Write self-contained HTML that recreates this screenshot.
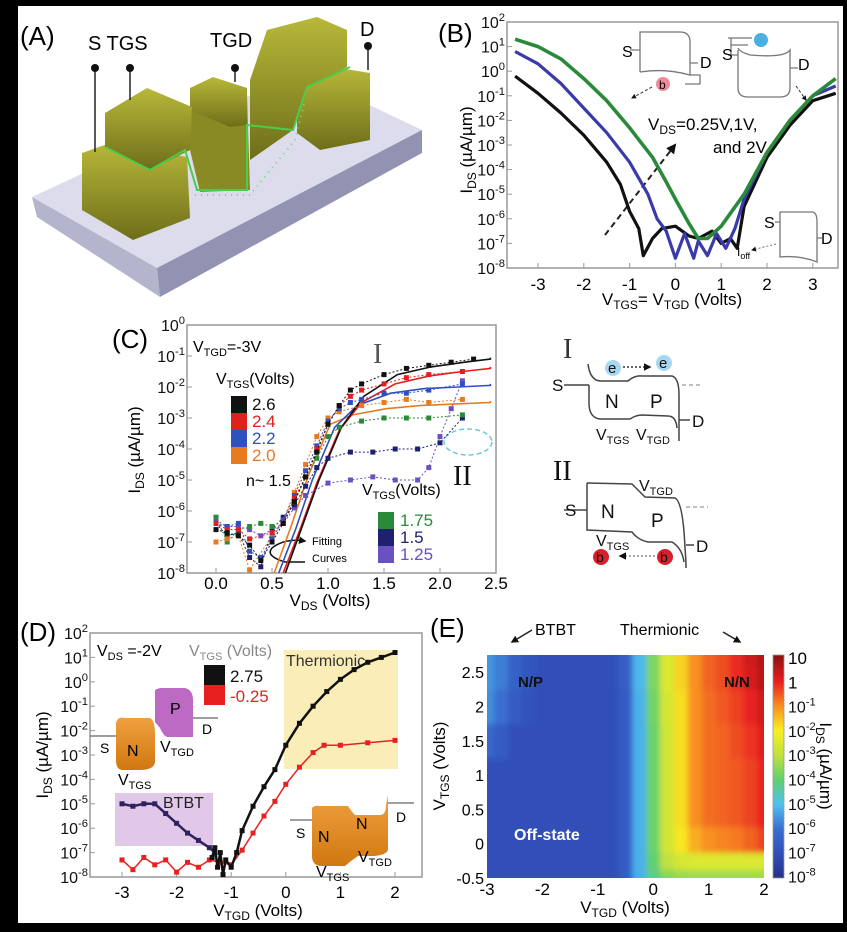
<!DOCTYPE html>
<html><head><meta charset="utf-8">
<style>
html,body{margin:0;padding:0;background:#000;}
svg{display:block;font-family:"Liberation Sans",Arial,sans-serif;}
</style></head>
<body>
<svg id="fig" width="847" height="932" viewBox="0 0 847 932" xmlns="http://www.w3.org/2000/svg">
<defs>
  <filter id="blur3" x="-5%" y="-5%" width="110%" height="110%"><feGaussianBlur stdDeviation="3"/></filter>
  <clipPath id="eclip"><rect x="487" y="655" width="277" height="223"/></clipPath>
  <linearGradient id="cbar" x1="0" y1="1" x2="0" y2="0">
    <stop offset="0" stop-color="#26308a"/><stop offset="0.11" stop-color="#3050b8"/>
    <stop offset="0.22" stop-color="#3a6ed0"/><stop offset="0.33" stop-color="#50c0f0"/>
    <stop offset="0.44" stop-color="#60d070"/><stop offset="0.55" stop-color="#c0e040"/>
    <stop offset="0.66" stop-color="#f8f020"/><stop offset="0.77" stop-color="#f89020"/>
    <stop offset="0.88" stop-color="#e82020"/><stop offset="1" stop-color="#8a1010"/>
  </linearGradient>
  <linearGradient id="olive" x1="0" y1="0" x2="0" y2="1">
    <stop offset="0" stop-color="#b8b83a"/><stop offset="1" stop-color="#6e6e1a"/>
  </linearGradient>
  <linearGradient id="orangeg" x1="0" y1="0" x2="0" y2="1">
    <stop offset="0" stop-color="#f0a040"/><stop offset="1" stop-color="#d07810"/>
  </linearGradient>
  <marker id="arr" viewBox="0 0 10 10" refX="8" refY="5" markerWidth="5" markerHeight="5" orient="auto"><path d="M0,0L10,5L0,10z" fill="#111"/></marker>
</defs>
<rect x="18" y="6" width="825" height="917" fill="#fff"/>

<!-- Panel A: device schematic -->
<g>
  <polygon points="32,197 300,72 422,130 157,268" fill="#dcdcec"/>
  <polygon points="32,197 157,268 160,297 37,217" fill="#b4b4cc"/>
  <polygon points="157,268 422,130 422,153 160,297" fill="#9292b2"/>
  <polygon points="297,95 333,67 370,73 370,140 320,150 297,133" fill="url(#olive)"/>
  <polygon points="250,80 267,30 317,17 347,30 347,67 307,87 293,130 250,160" fill="url(#olive)"/>
  <polygon points="190,110 247,95 250,190 200,192 190,150" fill="#8a8a24"/>
  <polygon points="190,88 213,77 247,88 247,125 230,127 190,110" fill="url(#olive)"/>
  <polygon points="82,153 110,143 187,157 190,218 133,240 82,210" fill="url(#olive)"/>
  <polygon points="105,113 147,88 192,107 190,150 150,170 105,147" fill="url(#olive)"/>
  <polyline points="105,147 150,170 185,150 197,190 247,190 247,125 293,130 307,87 350,67" fill="none" stroke="#4ccc4c" stroke-width="2"/>
  <polyline points="195,195 250,195 295,140 305,100" fill="none" stroke="#6ee06e" stroke-width="2" stroke-dasharray="1,5"/>
  <g stroke="#222" stroke-width="1.5">
    <line x1="95" y1="68" x2="95" y2="152"/><line x1="130" y1="68" x2="130" y2="100"/>
    <line x1="235" y1="68" x2="235" y2="82"/><line x1="368" y1="46" x2="368" y2="70"/>
  </g>
  <g fill="#111"><circle cx="95" cy="68" r="4"/><circle cx="130" cy="68" r="4"/><circle cx="235" cy="68" r="4"/><circle cx="368" cy="46" r="4"/></g>
  <text x="20" y="45" font-size="26">(A)</text>
  <text x="88" y="50" font-size="20">S TGS</text>
  <text x="210" y="47" font-size="20">TGD</text>
  <text x="360" y="36" font-size="20">D</text>
</g>

<!-- Panel B static -->
<g>
  <text x="438" y="42" font-size="26">(B)</text>
  <rect x="507" y="22" width="331" height="246" fill="none" stroke="#999" stroke-width="1.5"/>
  <text transform="translate(472,150) rotate(-90)" text-anchor="middle" font-size="17">I<tspan font-size="12" dy="4">DS</tspan><tspan dy="-4"> (µA/µm)</tspan></text>
  <text x="672" y="305" text-anchor="middle" font-size="17">V<tspan font-size="12" dy="4">TGS</tspan><tspan dy="-4">= V</tspan><tspan font-size="12" dy="4">TGD</tspan><tspan dy="-4"> (Volts)</tspan></text>
  <text x="648" y="130" font-size="17">V<tspan font-size="12" dy="4">DS</tspan><tspan dy="-4">=0.25V,1V,</tspan></text>
  <text x="713" y="153" font-size="17">and 2V</text>
  <line x1="605" y1="235" x2="675" y2="145" stroke="#222" stroke-width="2" stroke-dasharray="6,4" marker-end="url(#arr)"/>
  <g fill="none" stroke="#777" stroke-width="1.3">
    <path d="M640,72 L640,32 L680,32 Q690,32 690,42 L690,75 Q665,68 640,72"/>
    <path d="M630,50 L640,50 M690,63 L698,63 M690,75 L700,75 L700,84 L685,84"/>
  </g>
  <circle cx="663" cy="84" r="7" fill="#f08a9a"/>
  <text x="659" y="89" font-size="12">b</text>
  <text x="622" y="57" font-size="16">S</text><text x="700" y="68" font-size="16">D</text>
  <line x1="652" y1="87" x2="632" y2="98" stroke="#333" stroke-dasharray="3,2" marker-end="url(#arr)"/>
  <g fill="none" stroke="#777" stroke-width="1.3">
    <path d="M738,50 L738,88 Q738,97 748,97 L780,97 Q790,97 790,88 L790,50 Q785,58 750,55 Q740,52 738,48"/>
    <path d="M728,55 L738,55 M790,68 L798,68 M728,38 L752,38 M731,45 L748,45 M731,38 L731,55"/>
  </g>
  <circle cx="761" cy="40" r="7" fill="#4ab0e0"/>
  <text x="722" y="60" font-size="16">S</text><text x="798" y="70" font-size="16">D</text>
  <line x1="796" y1="86" x2="806" y2="100" stroke="#333" stroke-dasharray="3,2" marker-end="url(#arr)"/>
  <g fill="none" stroke="#777" stroke-width="1.3">
    <path d="M780,212 L812,212 Q817,212 817,222 L817,262 Q800,255 780,257 Z"/>
    <path d="M775,222 L780,222 M817,238 L822,238"/>
  </g>
  <text x="764" y="228" font-size="16">S</text><text x="821" y="244" font-size="16">D</text>
  <text x="737" y="256" font-size="12">I<tspan font-size="9" dy="3">off</tspan></text>
  <line x1="776" y1="244" x2="752" y2="250" stroke="#777" stroke-dasharray="2,2" marker-end="url(#arr)"/>
</g>

<!-- Panel C static -->
<g>
  <text x="112" y="348" font-size="26">(C)</text>
  <rect x="187" y="325" width="309" height="248" fill="none" stroke="#999" stroke-width="1.5"/>
  <text transform="translate(140,450) rotate(-90)" text-anchor="middle" font-size="17">I<tspan font-size="12" dy="4">DS</tspan><tspan dy="-4"> (µA/µm)</tspan></text>
  <text x="330" y="606" text-anchor="middle" font-size="17">V<tspan font-size="12" dy="4">DS</tspan><tspan dy="-4"> (Volts)</tspan></text>
  <text x="193" y="352" font-size="16">V<tspan font-size="11" dy="4">TGD</tspan><tspan dy="-4">=-3V</tspan></text>
  <text x="216" y="384" font-size="16">V<tspan font-size="11" dy="4">TGS</tspan><tspan dy="-4">(Volts)</tspan></text>
  <text x="373" y="363" font-family="Liberation Serif" font-size="28" fill="#555">I</text>
  <text x="453" y="485" font-family="Liberation Serif" font-size="28" fill="#111">II</text>
  <text x="362" y="495" font-size="16">V<tspan font-size="11" dy="4">TGS</tspan><tspan dy="-4">(Volts)</tspan></text>
  <text x="312" y="545" font-size="11">Fitting</text>
  <text x="312" y="562" font-size="11">Curves</text>
  <path d="M305,562 L285,562 Q265,556 272,548 Q285,538 305,541" fill="none" stroke="#111" stroke-width="1.5" marker-end="url(#arr)"/>
  <ellipse cx="468" cy="442" rx="24" ry="13" fill="none" stroke="#70c8d8" stroke-width="1.5" stroke-dasharray="5,3"/>
</g>
<g id="legendC"></g>

<!-- Band diagrams I and II -->
<g fill="none" stroke="#444" stroke-width="1.5">
  <text x="563" y="358" font-family="Liberation Serif" font-size="28" fill="#333" stroke="none">I</text>
  <path d="M588,364 Q590,380 600,381 L628,381 Q635,375 642,376 L672,376 Q679,378 679,395 L679,441"/>
  <path d="M589,385 L589,405 Q590,418 600,419 L630,419 Q636,415 642,415 L668,416 Q676,416 677,428"/>
  <path d="M564,385 L589,385 M679,420 L690,420"/>
  <path d="M682,385 L700,385" stroke="#aaa" stroke-dasharray="4,3"/>
  <circle cx="613" cy="368" r="8" fill="#a8d8f0" stroke="none"/><circle cx="664" cy="363" r="8" fill="#a8d8f0" stroke="none"/>
  <path d="M623,367 L650,367" stroke="#333" stroke-dasharray="2,2" marker-end="url(#arr)"/>
  <g stroke="none" fill="#111">
    <text x="608" y="373" font-size="15">e</text><text x="659" y="368" font-size="15">e</text>
    <text x="552" y="391" font-size="17">S</text><text x="692" y="427" font-size="17">D</text>
    <text x="605" y="408" font-size="19">N</text><text x="650" y="408" font-size="19">P</text>
    <text x="596" y="440" font-size="16">V<tspan font-size="11" dy="4">TGS</tspan></text>
    <text x="636" y="440" font-size="16">V<tspan font-size="11" dy="4">TGD</tspan></text>
  </g>
</g>
<g fill="none" stroke="#444" stroke-width="1.5">
  <text x="553" y="480" font-family="Liberation Serif" font-size="28" fill="#111" stroke="none">II</text>
  <path d="M587,483 L632,484 Q638,490 645,497 L675,498 Q683,502 685,548 Q686,560 686,568"/>
  <path d="M587,483 L587,530 L632,532 Q638,540 648,542 L672,542 Q682,548 684,562"/>
  <path d="M564,510 L587,510 M686,545 L694,545"/>
  <path d="M686,507 L708,507" stroke="#aaa" stroke-dasharray="4,3"/>
  <circle cx="601" cy="557" r="8" fill="#d8202a" stroke="none"/><circle cx="665" cy="557" r="8" fill="#d8202a" stroke="none"/>
  <path d="M655,556 L620,556" stroke="#888" stroke-dasharray="2,2" marker-end="url(#arr)"/>
  <g stroke="none" fill="#111">
    <text x="596" y="562" font-size="14">b</text><text x="660" y="562" font-size="14">b</text>
    <text x="565" y="516" font-size="17">S</text><text x="696" y="552" font-size="17">D</text>
    <text x="601" y="518" font-size="19">N</text><text x="651" y="527" font-size="19">P</text>
    <text x="596" y="546" font-size="16">V<tspan font-size="11" dy="4">TGS</tspan></text>
    <text x="639" y="491" font-size="16">V<tspan font-size="11" dy="4">TGD</tspan></text>
  </g>
</g>

<!-- Panel D static -->
<g>
  <text x="20" y="641" font-size="26">(D)</text>
  <rect x="284" y="650" width="114" height="119" fill="#fbedb8"/>
  <rect x="115" y="793" width="98" height="53" fill="#e2c8e8"/>
  <rect x="90" y="633" width="332" height="244" fill="none" stroke="#999" stroke-width="1.5"/>
  <text transform="translate(48,755) rotate(-90)" text-anchor="middle" font-size="17">I<tspan font-size="12" dy="4">DS</tspan><tspan dy="-4"> (µA/µm)</tspan></text>
  <text x="258" y="916" text-anchor="middle" font-size="17">V<tspan font-size="12" dy="4">TGD</tspan><tspan dy="-4"> (Volts)</tspan></text>
  <text x="97" y="656" font-size="16">V<tspan font-size="11" dy="4">DS</tspan><tspan dy="-4"> =-2V</tspan></text>
  <text x="189" y="656" font-size="16" fill="#888">V<tspan font-size="11" dy="4">TGS</tspan><tspan dy="-4"> (Volts)</tspan></text>
  <text x="286" y="666" font-size="16" fill="#333">Thermionic</text>
  <text x="163" y="808" font-size="16" fill="#222">BTBT</text>
  <g>
    <path d="M155,690 Q158,688 162,688 L185,688 Q193,690 193,700 L193,737 L168,737 Q164,737 160,728 L155,722 Z" fill="#b050b8" opacity="0.85"/>
    <path d="M116,723 Q118,716 124,718 L150,718 Q155,720 155,735 L155,762 Q154,770 140,770 L123,770 Q116,770 116,760 Z" fill="url(#orangeg)"/>
    <path d="M90,736 L116,736 M193,718 L218,718" stroke="#666" stroke-width="1.3"/>
    <text x="170" y="714" font-size="16">P</text><text x="127" y="756" font-size="16">N</text>
    <text x="100" y="753" font-size="14">S</text><text x="202" y="734" font-size="14">D</text>
    <text x="160" y="752" font-size="16">V<tspan font-size="11" dy="4">TGD</tspan></text>
    <text x="118" y="785" font-size="16">V<tspan font-size="11" dy="4">TGS</tspan></text>
  </g>
  <g>
    <path d="M312,808 Q314,805 320,806 L348,806 Q352,812 355,815 L380,815 Q386,815 386,805 L388,795 L388,850 Q386,855 375,856 L358,856 Q352,860 345,866 L322,866 Q312,866 312,856 Z" fill="url(#orangeg)"/>
    <path d="M290,820 L312,820 M388,803 L414,803" stroke="#666" stroke-width="1.3"/>
    <text x="318" y="842" font-size="16">N</text><text x="356" y="829" font-size="16">N</text>
    <text x="296" y="838" font-size="14">S</text><text x="396" y="822" font-size="14">D</text>
    <text x="358" y="862" font-size="16">V<tspan font-size="11" dy="4">TGD</tspan></text>
    <text x="316" y="877" font-size="16">V<tspan font-size="11" dy="4">TGS</tspan></text>
  </g>
</g>
<g id="legendD"></g>

<!-- Panel E static -->
<g>
  <text x="430" y="637" font-size="26">(E)</text>
  <text x="535" y="635" font-size="16">BTBT</text>
  <line x1="532" y1="630" x2="512" y2="642" stroke="#222" stroke-width="1.5" marker-end="url(#arr)"/>
  <text x="620" y="635" font-size="16">Thermionic</text>
  <line x1="723" y1="632" x2="740" y2="642" stroke="#222" stroke-width="1.5" marker-end="url(#arr)"/>
  <text transform="translate(445,766) rotate(-90)" text-anchor="middle" font-size="17">V<tspan font-size="12" dy="4">TGS</tspan><tspan dy="-4"> (Volts)</tspan></text>
  <text x="625" y="913" text-anchor="middle" font-size="17">V<tspan font-size="12" dy="4">TGD</tspan><tspan dy="-4"> (Volts)</tspan></text>
  <rect x="773" y="655" width="11" height="223" fill="url(#cbar)" stroke="#999" stroke-width="0.8"/>
  <text transform="translate(820,766) rotate(90)" text-anchor="middle" font-size="17">I<tspan font-size="12" dy="4">DS</tspan><tspan dy="-4"> (µA/µm)</tspan></text>
</g>
<g id="heat" clip-path="url(#eclip)"><g id="heatcells" filter="url(#blur3)"></g></g>
<g>
  <text x="518" y="687" font-size="15" font-weight="bold" fill="#111">N/P</text>
  <text x="724" y="687" font-size="15" font-weight="bold" fill="#111">N/N</text>
  <text x="514" y="840" font-size="16" font-weight="bold" fill="#fff">Off-state</text>
</g>
<g id="dyn"></g>
<g>
  <text x="246" y="486" font-size="16">n~ 1.5</text>
</g>
</svg>

<script>
// ---------- Panel B data ----------
const bXGreen=[-3.5,-3,-2.5,-2,-1.5,-1,-0.5,-0.2,0,0.3,0.5,0.7,1.0,1.5,2,2.5,3,3.5];
const bGreen=[1.3,1.0,0.5,-0.3,-1.2,-2.3,-3.5,-4.5,-5.2,-6.2,-6.8,-6.8,-6.3,-5.0,-3.3,-2.0,-1.0,-0.3];
const bXBlue=[-3.5,-3,-2.5,-2,-1.5,-1,-0.6,-0.4,-0.2,0,0.2,0.4,0.5,0.7,0.9,1.1,1.3,1.5,2,2.5,3,3.5];
const bBlue=[0.8,0.3,-0.5,-1.5,-2.5,-3.7,-5.0,-6.0,-6.5,-7.6,-6.6,-7.6,-6.9,-7.5,-6.6,-7.2,-6.4,-5.2,-3.3,-2.0,-1.0,-0.6];
const bXBlack=[-3.5,-3,-2.5,-2,-1.5,-1.2,-1,-0.8,-0.7,-0.5,-0.3,0,0.3,0.5,0.8,1.0,1.2,1.35,1.5,2,2.5,3,3.5];
const bBlack=[-0.2,-0.9,-1.7,-2.6,-3.7,-4.6,-5.7,-6.4,-7.5,-6.8,-6.4,-6.3,-6.7,-6.8,-6.5,-7.0,-6.8,-7.2,-5.5,-3.5,-2.2,-1.2,-0.9];
const bXTicks=[-3,-2,-1,0,1,2,3];
const bYExp=[2,1,0,-1,-2,-3,-4,-5,-6,-7,-8];

// ---------- Panel C data ----------
const cX26=[0,0.1,0.2,0.3,0.4,0.5,0.6,0.7,0.8,0.9,1.0,1.1,1.2,1.3,1.5,1.7,1.9,2.1,2.3];
const c26=[-6.6,-6.7,-6.8,-7.1,-7.6,-7.0,-6.4,-5.7,-4.9,-4.1,-3.2,-2.6,-2.1,-1.9,-1.6,-1.4,-1.3,-1.2,-1.1];
const cX24=[0,0.1,0.2,0.3,0.5,0.6,0.7,0.8,0.9,1.0,1.1,1.2,1.3,1.5,1.7,1.9,2.2];
const c24=[-6.4,-6.6,-6.6,-6.9,-6.7,-6.4,-5.6,-4.9,-4.0,-3.2,-2.6,-2.3,-2.1,-1.9,-1.7,-1.6,-1.5];
const cX22=[0,0.1,0.2,0.3,0.4,0.5,0.6,0.7,0.8,0.9,1.0,1.1,1.2,1.3,1.5,1.7,1.9,2.2];
const c22=[-6.4,-6.5,-6.4,-7.3,-7.5,-6.9,-6.3,-5.5,-4.7,-3.9,-3.1,-2.7,-2.5,-2.4,-2.2,-2.2,-2.1,-1.9];
const cX20=[0,0.1,0.2,0.3,0.5,0.6,0.7,0.8,0.9,1.0,1.1,1.3,1.5,1.7,1.9,2.2];
const c20=[-7.0,-6.9,-6.8,-7.9,-6.8,-6.3,-5.4,-4.5,-3.6,-3.0,-2.8,-2.6,-2.5,-2.4,-2.5,-2.4];
const cX175=[0,0.1,0.2,0.3,0.4,0.5,0.6,0.7,0.8,0.9,1.0,1.1,1.3,1.5,1.7,1.9,2.2];
const c175=[-6.2,-7.0,-6.6,-6.5,-6.4,-6.5,-6.3,-5.7,-4.9,-4.3,-3.6,-3.3,-3.1,-3.0,-3.0,-3.0,-2.9];
const cX15=[0,0.1,0.2,0.3,0.4,0.5,0.6,0.7,0.8,0.9,1.0,1.2,1.4,1.6,1.8,2.0,2.2];
const c15=[-6.4,-6.8,-6.7,-7.5,-7.8,-6.6,-6.2,-5.8,-5.2,-4.6,-4.3,-4.1,-4.1,-4.0,-4.0,-3.8,-3.0];
const cX125=[0,0.1,0.2,0.3,0.4,0.5,0.6,0.7,0.8,1.0,1.2,1.4,1.6,1.8,1.9,2.0,2.1,2.2];
const c125=[-6.3,-6.5,-6.5,-6.6,-6.8,-6.6,-6.4,-5.9,-5.5,-5.1,-5.0,-4.9,-5.0,-5.0,-4.6,-3.6,-2.7,-1.8];
const cFitX=[0.0,0.15,0.3,0.5,0.7,1.0,1.3,1.6,2.0,2.35];
const cFitBlack=[-8.0,-6.5,-5.0,-3.3,-2.3,-1.6,-1.35,-1.2,-1.1,-1.05];
const cFitRed=[-8.0,-6.6,-5.1,-3.4,-2.5,-1.9,-1.65,-1.5,-1.4,-1.35];
const cFitBlue=[-8.0,-6.6,-5.0,-3.3,-2.6,-2.2,-2.05,-2.0,-1.95,-1.9];
const cFitOrange=[-8.0,-6.5,-4.9,-3.2,-2.9,-2.7,-2.6,-2.55,-2.5,-2.45];
const cFitStart=[0.62,0.6,0.56,0.52];
const cXTicks=[0.0,0.5,1.0,1.5,2.0,2.5];
const cYExp=[0,-1,-2,-3,-4,-5,-6,-7,-8];
const cLeg1Labels=["2.6","2.4","2.2","2.0"];
const cLeg2Labels=["1.75","1.5","1.25"];

// ---------- Panel D data ----------
const dXBlack=[-1.35,-1.3,-1.25,-1.2,-1.15,-1.1,-1.0,-0.9,-0.8,-0.6,-0.4,-0.2,0,0.25,0.5,0.75,1.0,1.25,1.5,1.75,2.0];
const dBlack=[-7.2,-6.8,-7.6,-7.0,-7.9,-7.3,-7.6,-7.0,-6.1,-5.1,-4.3,-3.6,-2.6,-1.7,-1.0,-0.4,0.1,0.5,0.8,1.0,1.2];
const dXRed=[-3,-2.8,-2.6,-2.4,-2.2,-2.0,-1.8,-1.6,-1.4,-1.2,-1.0,-0.8,-0.6,-0.4,-0.2,0,0.25,0.5,0.7,1.0,1.5,2.0];
const dRed=[-7.3,-7.7,-7.2,-7.5,-7.3,-7.8,-7.4,-7.6,-7.3,-7.4,-7.5,-6.9,-6.2,-5.5,-4.9,-4.2,-3.5,-2.9,-2.6,-2.6,-2.5,-2.4];
const dXBtbt=[-3,-2.8,-2.6,-2.4,-2.2,-2.0,-1.8,-1.6,-1.4,-1.3];
const dBtbt=[-5.0,-5.1,-5.0,-5.0,-5.4,-5.8,-6.2,-6.5,-6.8,-7.0];
const dXTicks=[-3,-2,-1,0,1,2];
const dYExp=[2,1,0,-1,-2,-3,-4,-5,-6,-7,-8];
const dLegLabels=["2.75","-0.25"];

// ---------- Panel E data ----------
const eCols=[-3,-2.75,-2.5,-2.25,-2,-1.75,-1.5,-1.25,-1,-0.75,-0.5,-0.25,0,0.25,0.5,0.75,1,1.25,1.5,1.75,2];
const eRows=[-0.5,-0.25,0,0.5,1,1.5,2,2.5,2.75];
const eRowM050=[-7,-7,-7,-7,-7,-7,-7,-7,-7,-7,-6.6,-5.2,-4.2,-3.6,-3.4,-3.3,-3.3,-3.3,-3.3,-3.3,-3.3];
const eRowM025=[-7,-7,-7,-7,-7,-7,-7,-7,-7,-7,-6.6,-5.2,-4.0,-3.0,-2.6,-2.5,-2.5,-2.5,-2.5,-2.5,-2.5];
const eRow000=[-7,-7,-7,-7,-7,-7,-7,-7,-7,-7,-6.6,-5.2,-3.9,-2.7,-1.9,-1.3,-1.0,-0.9,-0.8,-0.6,-0.3];
const eRow050=[-7,-7,-7,-7,-7,-7,-7,-7,-7,-7,-6.6,-5.2,-3.9,-2.7,-1.8,-1.0,-0.7,-0.6,-0.5,-0.3,0];
const eRow100=[-7,-7,-7,-7,-7,-7,-7,-7,-7,-7,-6.6,-5.2,-3.9,-2.7,-1.8,-1.0,-0.7,-0.6,-0.5,-0.3,0];
const eRow150=[-6.2,-6.6,-7,-7,-7,-7,-7,-7,-7,-7,-6.6,-5.2,-3.9,-2.7,-1.8,-1.0,-0.7,-0.6,-0.4,-0.2,0.1];
const eRow200=[-5.6,-6.0,-6.6,-6.9,-7,-7,-7,-7,-7,-7,-6.6,-5.2,-3.8,-2.6,-1.8,-1.0,-0.7,-0.5,-0.3,0,0.3];
const eRow250=[-5.5,-5.8,-6.4,-6.8,-7,-7,-7,-7,-7,-7,-6.5,-5.1,-3.7,-2.5,-1.7,-1.0,-0.6,-0.4,-0.1,0.2,0.5];
const eRow275=[-5.5,-5.8,-6.4,-6.8,-7,-7,-7,-7,-7,-7,-6.5,-5.1,-3.7,-2.5,-1.7,-1.0,-0.6,-0.4,-0.1,0.3,0.6];
const eVals=[eRowM050,eRowM025,eRow000,eRow050,eRow100,eRow150,eRow200,eRow250,eRow275];
const eXTicks=[-3,-2,-1,0,1,2];
const eYTicks=[-0.5,0,0.5,1,1.5,2,2.5];
const eYTickLabels=["-0.5","0","0.5","1","1.5","2","2.5"];
const eCbExp=[1,0,-1,-2,-3,-4,-5,-6,-7,-8];

// ---------- scales ----------
const bx=v=>538+(v+3)*45.8, by=l=>22+(2-l)*24.6;
const cx=v=>216+v*112, cy=l=>325+(0-l)*31;
const dx=v=>122+(v+3)*54.6, dy=l=>633+(2-l)*24.4;
const ex=v=>487+(v+3)*55.4, ey=v=>878-(v+0.5)*68.6;
const ecb=l=>658+(1-l)*24.3;

const NS="http://www.w3.org/2000/svg";
const dyn=document.getElementById('dyn');
function mk(tag,attrs,parent){const e=document.createElementNS(NS,tag);for(const k in attrs)e.setAttribute(k,attrs[k]);(parent||dyn).appendChild(e);return e;}

function powLabel(x,y,exp,anchor,size,parent){
  const t=mk('text',{x:x,y:y,'text-anchor':anchor,'font-size':size,fill:'#111'},parent);
  t.appendChild(document.createTextNode('10'));
  const s=mk('tspan',{dy:-7,'font-size':size*0.7},t);
  s.textContent=String(exp);
  return t;
}
function series(xs,ys,fx,fy,color,w,name,opts){
  const pts=xs.map((v,i)=>fx(v).toFixed(1)+','+fy(ys[i]).toFixed(1)).join(' ');
  const pl=mk('polyline',{points:pts,fill:'none',stroke:color,'stroke-width':w,'stroke-linejoin':'round','stroke-dasharray':(opts&&opts.dash)||'none'});
  
  
  if(opts&&opts.marker){
    xs.forEach((v,i)=>{
      const r=mk('rect',{x:fx(v)-2.5,y:fy(ys[i])-2.5,width:5,height:5,fill:color});
      
      
    });
  }
}

// ---------- Panel B ----------
bYExp.forEach(e=>{powLabel(505,by(e)+6,e,'end',16);
  mk('line',{x1:507,y1:by(e),x2:512,y2:by(e),stroke:'#999'});});
bXTicks.forEach(v=>{const t=mk('text',{x:bx(v),y:290,'text-anchor':'middle','font-size':17});t.textContent=String(v);
  mk('line',{x1:bx(v),y1:268,x2:bx(v),y2:263,stroke:'#999'});});
series(bXBlack,bBlack,bx,by,'#111',3.2,'series-vds-0.25v');
series(bXBlue,bBlue,bx,by,'#3a3aaa',3.2,'series-vds-1v');
series(bXGreen,bGreen,bx,by,'#2a8a3a',3.6,'series-vds-2v');

// ---------- Panel C ----------
cYExp.forEach(e=>{powLabel(185,cy(e)+6,e,'end',16);
  mk('line',{x1:187,y1:cy(e),x2:192,y2:cy(e),stroke:'#999'});});
cXTicks.forEach(v=>{const t=mk('text',{x:cx(v),y:589,'text-anchor':'middle','font-size':17});t.textContent=v.toFixed(1);
  mk('line',{x1:cx(v),y1:573,x2:cx(v),y2:568,stroke:'#999'});});
const cclipRect=mk('clipPath',{id:'cclip'});mk('rect',{x:187,y:325,width:309,height:248},cclipRect);
const cFits=[[cFitOrange,'#e87a20',3],[cFitBlue,'#3050c0',2],[cFitRed,'#e02020',1],[cFitBlack,'#111',0]];
cFits.forEach(([arr,col,k])=>{
  const xs=cFitX.map(v=>v+cFitStart[k]);
  const pts=xs.map((v,i)=>cx(Math.min(v,2.45)).toFixed(1)+','+cy(arr[i]).toFixed(1)).join(' ');
  const pl=mk('polyline',{points:pts,fill:'none',stroke:col,'stroke-width':1.6,'clip-path':'url(#cclip)'});
  
  
});
series(cX125,c125,cx,cy,'#6a50c0',1,'series-vtgs-1.25',{marker:1,dash:'2,2'});
series(cX15,c15,cx,cy,'#202070',1,'series-vtgs-1.5',{marker:1,dash:'2,2'});
series(cX175,c175,cx,cy,'#2a8a3a',1,'series-vtgs-1.75',{marker:1,dash:'2,2'});
series(cX20,c20,cx,cy,'#e87a20',1,'series-vtgs-2.0',{marker:1,dash:'2,2'});
series(cX22,c22,cx,cy,'#3050c0',1,'series-vtgs-2.2',{marker:1,dash:'2,2'});
series(cX24,c24,cx,cy,'#e02020',1,'series-vtgs-2.4',{marker:1,dash:'2,2'});
series(cX26,c26,cx,cy,'#111',1,'series-vtgs-2.6',{marker:1,dash:'2,2'});
const legC=document.getElementById('legendC');
const leg1Cols=['#111','#e02020','#3050c0','#e87a20'];
cLeg1Labels.forEach((s,i)=>{mk('rect',{x:231,y:396+i*17,width:16,height:17,fill:leg1Cols[i]},legC);
  const t=mk('text',{x:252,y:410+i*17,'font-size':17,fill:leg1Cols[i]},legC);t.textContent=s;});
const leg2Cols=['#2a8a3a','#202070','#6a50c0'];
cLeg2Labels.forEach((s,i)=>{mk('rect',{x:378,y:512+i*17,width:16,height:17,fill:leg2Cols[i]},legC);
  const t=mk('text',{x:400,y:526+i*17,'font-size':17,fill:leg2Cols[i]},legC);t.textContent=s;});

// ---------- Panel D ----------
dYExp.forEach(e=>{powLabel(88,dy(e)+6,e,'end',16);
  mk('line',{x1:90,y1:dy(e),x2:95,y2:dy(e),stroke:'#999'});});
dXTicks.forEach(v=>{const t=mk('text',{x:dx(v),y:898,'text-anchor':'middle','font-size':17});t.textContent=String(v);
  mk('line',{x1:dx(v),y1:877,x2:dx(v),y2:872,stroke:'#999'});});
series(dXRed,dRed,dx,dy,'#e82020',1.5,'series-vtgs-neg0.25',{marker:1});
series(dXBtbt,dBtbt,dx,dy,'#302060',2.5,'series-btbt',{marker:1});
series(dXBlack,dBlack,dx,dy,'#111',2.5,'series-vtgs-2.75',{marker:1});
const legD=document.getElementById('legendD');
const legDCols=['#111','#e82020'];
dLegLabels.forEach((s,i)=>{mk('rect',{x:204,y:665+i*20,width:21,height:20,fill:legDCols[i]},legD);
  const t=mk('text',{x:230,y:682+i*20,'font-size':17,fill:legDCols[i]},legD);t.textContent=s;});

// ---------- Panel E ----------
const cStopsV=[-8,-7,-6,-5,-4,-3,-2,-1,0,1];
const cStopsC=[[38,48,138],[48,80,184],[58,110,208],[80,192,240],[96,208,112],[192,224,64],[248,240,32],[248,144,32],[232,32,32],[138,16,16]];
function cmap(l){l=Math.max(-8,Math.min(1,l));let i=0;while(i<cStopsV.length-2&&l>cStopsV[i+1])i++;
  const t=(l-cStopsV[i])/(cStopsV[i+1]-cStopsV[i]);const a=cStopsC[i],b=cStopsC[i+1];
  return 'rgb('+a.map((v,k)=>Math.round(v+(b[k]-v)*t)).join(',')+')';}
const hc=document.getElementById('heatcells');
eRows.forEach((rv,ri)=>{
  const y0=ri===0?rv-0.3:(rv+eRows[ri-1])/2, y1=ri===eRows.length-1?rv+0.3:(rv+eRows[ri+1])/2;
  eCols.forEach((cv,ci)=>{
    const x0=ci===0?cv-0.3:(cv+eCols[ci-1])/2, x1=ci===eCols.length-1?cv+0.3:(cv+eCols[ci+1])/2;
    const r=mk('rect',{x:ex(x0),y:ey(y1),width:ex(x1)-ex(x0)+0.6,height:ey(y0)-ey(y1)+0.6,fill:cmap(eVals[ri][ci])},hc);
    
    
  });
});
eXTicks.forEach(v=>{const t=mk('text',{x:ex(v),y:895,'text-anchor':'middle','font-size':17});t.textContent=String(v);});
eYTicks.forEach((v,i)=>{const t=mk('text',{x:484,y:ey(v)+6,'text-anchor':'end','font-size':16});t.textContent=eYTickLabels[i];});
eCbExp.forEach(e=>{
  if(e===1){const t=mk('text',{x:788,y:ecb(e)+6,'font-size':17});t.textContent='10';}
  else if(e===0){const t=mk('text',{x:788,y:ecb(e)+6,'font-size':17});t.textContent='1';}
  else powLabel(788,ecb(e)+6,e,'start',16);
});
</script>
</body></html>
